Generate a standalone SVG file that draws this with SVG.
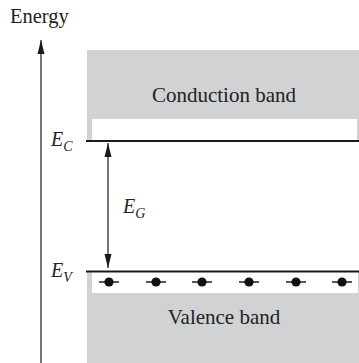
<svg xmlns="http://www.w3.org/2000/svg" width="359" height="363" viewBox="0 0 359 363">
<style>
.t{font-family:"Liberation Serif","Times New Roman",serif;fill:#222}
.i{font-style:italic}
.band{fill:#d1d2d4}
.gap{fill:#fff}
.lvl{stroke:#1a1a1a;stroke-width:2.2}
.ln{stroke:#1a1a1a;stroke-width:1.2;fill:none}
.e{fill:#111}
.d{stroke:#111;stroke-width:1.4}
</style>
<defs>
<marker id="ah" viewBox="0 0 14 8" refX="14" refY="4" markerWidth="14" markerHeight="8" markerUnits="userSpaceOnUse" orient="auto-start-reverse">
<path d="M0,0.5 L14,4 L0,7.5 Z" fill="#1a1a1a"/>
</marker>
<g id="el"><line class="d" x1="-10" y1="0" x2="10" y2="0"/><circle class="e" r="4.6"/></g>
</defs>
<g id="axis">
<text class="t" x="10" y="23" font-size="20.5">Energy</text>
<line class="ln" x1="41" y1="363" x2="41" y2="40" marker-end="url(#ah)"/>
</g>
<g id="conduction">
<rect class="band" x="87" y="50" width="272" height="91"/>
<rect class="gap" x="92" y="119" width="265" height="22"/>
<line class="lvl" x1="86" y1="141" x2="359" y2="141"/>
<text class="t" x="224" y="102" font-size="21" text-anchor="middle">Conduction band</text>
<text class="t i" x="51" y="146" font-size="20">E<tspan font-size="14" dy="5">C</tspan></text>
</g>
<g id="valence">
<rect class="band" x="87" y="271" width="272" height="92"/>
<rect class="gap" x="92" y="272" width="266" height="21"/>
<line class="lvl" x1="86" y1="271.5" x2="359" y2="271.5"/>
<text class="t" x="224" y="324" font-size="21" text-anchor="middle">Valence band</text>
<text class="t i" x="51" y="277" font-size="20">E<tspan font-size="14" dy="5">V</tspan></text>
<use href="#el" x="109" y="282"/>
<use href="#el" x="156" y="282"/>
<use href="#el" x="202" y="282"/>
<use href="#el" x="249" y="282"/>
<use href="#el" x="296" y="282"/>
<use href="#el" x="342" y="282"/>
</g>
<g id="connectors">
<line class="ln" x1="108" y1="143" x2="108" y2="268" marker-start="url(#ah)" marker-end="url(#ah)"/>
<text class="t i" x="123" y="213" font-size="20">E<tspan font-size="14" dy="5">G</tspan></text>
</g>
</svg>
